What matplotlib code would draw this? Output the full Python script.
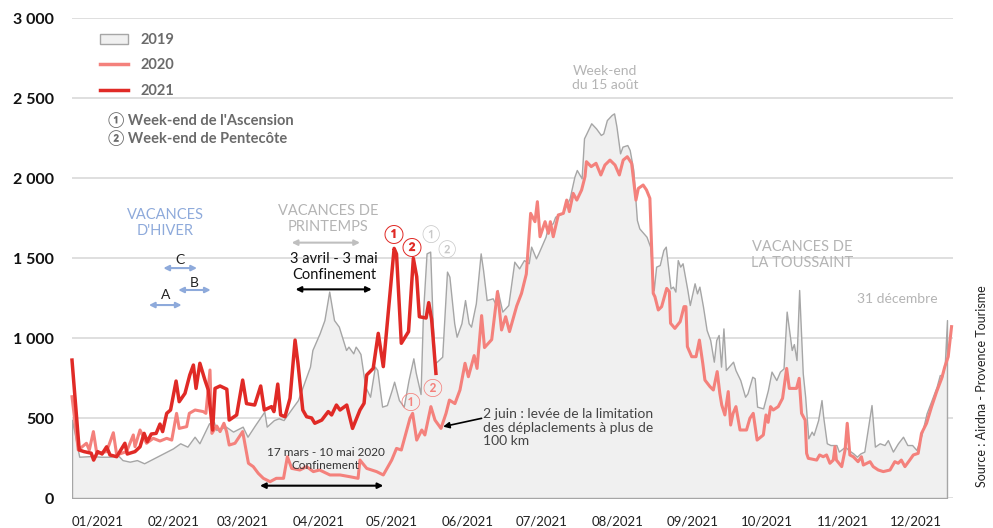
import matplotlib
matplotlib.use('Agg')
import matplotlib.pyplot as plt
import numpy as np

plt.rcParams['font.family'] = ['Lato', 'Noto Sans CJK JP', 'DejaVu Sans']

# day index in the year (0 = 1 January) and values
days_2019 = [0, 3, 8, 12, 16, 19, 21, 24, 27, 30, 34, 38, 42, 45, 48, 51, 53, 57, 59, 60,
             64, 67, 71, 73, 76, 80, 81, 84, 86, 88, 92, 94, 96, 99, 100, 103, 105, 107, 109, 111,
             114, 115, 117, 118, 119, 120, 122, 124, 126, 127, 129, 131, 133, 134, 136, 138, 140, 142, 143, 145,
             146, 147.5, 149, 150, 151, 152.5, 154, 156, 157, 159, 160, 162, 163.5, 165, 166, 168, 170, 171, 172.5, 175,
             176, 177, 179, 181.5, 184, 186, 188, 190, 191, 193, 194, 195.5, 197, 198, 200, 201, 204, 206, 207, 209,
             210, 212, 213, 214, 216, 218, 220, 221, 222.5, 224.5, 225.5, 226.5, 228, 229, 231, 232, 233.5, 235, 236, 239,
             240.5, 242, 243, 244.5, 246, 247, 249, 250, 251, 252, 253, 254, 256, 257, 259, 260, 261, 262.5, 264, 265.5,
             267, 268, 269, 270, 271, 272, 275, 276, 278, 280, 281, 283, 284, 285, 287.5, 289.5, 291, 293, 294.5, 296,
             297.3, 299.4, 300.3, 301.4, 302.5, 304, 305, 306.3, 307.7, 308.5, 310.4, 311.8, 312.5, 314, 315.5, 318, 319, 321.6, 323, 325,
             326.5, 328, 329.6, 332.6, 334, 336, 338, 339.4, 341.5, 343.6, 345.7, 347.5, 349.5, 351.3, 353.4, 355.5, 357.6, 359.7, 361, 362,
             363.1, 364]
vals_2019 = [490, 258, 262, 258, 258, 269, 237, 227, 237, 217, 248, 279, 310, 342, 321, 383, 342, 467, 477, 425,
             446, 415, 446, 383, 452, 540, 446, 487, 498, 487, 571, 612, 696, 821, 925, 1029, 1112, 1290, 1112, 1071,
             925, 946, 904, 946, 925, 900, 696, 633, 821, 800, 571, 581, 675, 727, 612, 571, 737, 873, 783, 650,
             1154, 1529, 1540, 1112, 842, 862, 883, 1415, 1383, 1092, 1008, 1092, 1237, 1092, 1071, 1217, 1529, 1425, 1237, 1248,
             1217, 1300, 1165, 1206, 1477, 1435, 1487, 1467, 1571, 1498, 1529, 1581, 1633, 1696, 1717, 1758, 1779, 1842, 1873, 2008,
             2050, 1998, 2248, 2279, 2342, 2310, 2269, 2279, 2362, 2394, 2404, 2321, 2154, 2196, 2206, 2175, 2050, 1737, 1685, 1633,
             1571, 1300, 1446, 1456, 1550, 1571, 1310, 1321, 1290, 1487, 1446, 1467, 1300, 1206, 1342, 1279, 1321, 1196, 1050, 987,
             852, 987, 1019, 821, 1060, 800, 852, 800, 737, 633, 654, 758, 748, 571, 560, 675, 790, 737, 790, 810,
             1165, 925, 962, 862, 1300, 779, 633, 373, 415, 394, 487, 612, 508, 342, 331, 331, 290, 321, 300, 279,
             258, 279, 290, 581, 321, 342, 331, 362, 290, 342, 383, 331, 331, 300, 394, 529, 612, 696, 769, 758,
             842, 1112]

days_2020 = [0, 2.6, 6, 7.2, 8.9, 10.3, 14.4, 17.2, 18.6, 22.7, 25.5, 26.2, 28.3, 31, 33.8, 36.6, 39.4, 41.5, 43.5, 44.6,
             47.7, 48.8, 51.2, 54.6, 55.7, 57.4, 58.2, 60.2, 61.6, 63.2, 64.3, 65.4, 67.8, 69.6, 71, 73.4, 75.4, 77.5, 79.6, 82.4,
             85, 88, 89.6, 91.4, 94.8, 97.6, 100.4, 103, 107.3, 111.5, 115.6, 119, 119.8, 122.6, 126.7, 129.5, 133, 135, 137, 140.6,
             141.7, 143.4, 145.5, 146.8, 149.3, 151, 153.5, 155.6, 157, 159.3, 161.4, 163.5, 164.9, 167.3, 168.5, 170.4, 171.6, 174.6, 177, 178.7,
             180.4, 182, 185, 187, 189, 190.8, 192.6, 193.6, 194.7, 196.8, 198.2, 199, 200.2, 202.3, 204.4, 205.8, 206.9, 208.5, 210, 212,
             213.4, 214, 216, 218, 220, 221.7, 223.8, 225.9, 227.7, 229.3, 231, 232.8, 234.6, 235.6, 237.6, 239, 240.4, 241.8, 242.5, 243.9,
             245.3, 247.4, 248.5, 249, 250.8, 253, 254.6, 255.4, 256, 257.8, 259.6, 261, 262.4, 263.3, 265.4, 266.8, 268.4, 269.5, 270.3, 271.6,
             273, 274, 275, 276.2, 277.9, 280.6, 282, 283.4, 285, 287.6, 288.7, 289.6, 290.6, 291.7, 293.8, 295.6, 297.3, 298.4, 301.4, 302.5,
             303.5, 305, 305.6, 306.3, 309.8, 311, 312.5, 313.9, 315.3, 316.7, 317.4, 318, 320.2, 321.6, 322.5, 323.6, 325, 327, 328.4, 329.2,
             332, 333.3, 335.4, 337.5, 340.3, 342.3, 343.7, 345, 346.5, 348.5, 350, 352, 353.4, 355.5, 357.6, 359.7, 361.8, 363.1, 364.5, 365.9]
vals_2020 = [633, 300, 342, 300, 415, 279, 290, 408, 269, 290, 394, 321, 425, 342, 373, 356, 373, 362, 529, 435,
             446, 529, 550, 540, 529, 800, 404, 450, 415, 467, 415, 331, 342, 383, 415, 217, 196, 154, 123, 102,
             123, 123, 258, 185, 175, 196, 165, 175, 144, 144, 133, 123, 237, 185, 165, 144, 237, 310, 300, 498,
             529, 362, 425, 394, 571, 487, 435, 529, 612, 590, 675, 842, 758, 890, 810, 1140, 940, 990, 1290, 1050,
             1133, 1040, 1200, 1279, 1400, 1779, 1727, 1852, 1633, 1727, 1654, 1727, 1633, 1769, 1779, 1862, 1790, 1904, 1862, 1925,
             2008, 2102, 2071, 2092, 2019, 2081, 2112, 2081, 2019, 2112, 2133, 2092, 1862, 1935, 1956, 1925, 1873, 1279, 1258, 1175,
             1196, 1310, 1290, 1092, 1060, 1102, 1196, 1196, 946, 883, 883, 987, 842, 737, 696, 675, 790, 654, 581, 519,
             665, 456, 529, 571, 425, 425, 498, 529, 362, 394, 519, 473, 571, 550, 571, 623, 810, 685, 685, 748,
             529, 487, 279, 248, 237, 269, 258, 269, 217, 237, 321, 237, 196, 300, 467, 269, 258, 227, 258, 206,
             227, 196, 175, 165, 175, 227, 217, 237, 196, 237, 269, 279, 404, 467, 571, 665, 748, 821, 883, 1071]

days_2021 = [0, 3, 5, 8, 9, 10.7, 12.5, 14.4, 15.8, 18.6, 22, 23, 26.2, 28.3, 30, 31.3, 33, 35, 36.6, 37.7,
             39.4, 41, 43.3, 44.6, 47, 49, 50.5, 51.6, 53.2, 55.3, 56.7, 58.5, 59.5, 61.6, 64.4, 65.4, 68.5, 71, 72.6, 76,
             78.5, 80, 83, 84, 85.6, 86.8, 88.6, 90.7, 92.8, 94, 96, 97.6, 99.7, 101, 103.9, 106.6, 108, 110, 111.5, 114.3,
             116.7, 119.8, 121.5, 122.6, 125.3, 127.4, 129.5, 130.9, 134, 135, 137, 140, 142, 143.4, 144.5, 147.3, 148.4, 149.6, 151.4]
vals_2021 = [862, 300, 290, 280, 237, 290, 275, 320, 269, 258, 342, 275, 290, 320, 404, 352, 400, 404, 462, 415,
             529, 550, 731, 602, 654, 769, 831, 685, 842, 737, 675, 425, 685, 700, 680, 487, 519, 737, 590, 581,
             700, 550, 571, 540, 712, 519, 508, 623, 987, 842, 550, 508, 500, 467, 487, 540, 519, 581, 550, 581,
             435, 550, 592, 769, 810, 1029, 821, 1050, 1560, 1525, 967, 1040, 1498, 1383, 1133, 1125, 1221, 1117, 779]

month_labels = ['01/2021', '02/2021', '03/2021', '04/2021', '05/2021', '06/2021',
                '07/2021', '08/2021', '09/2021', '10/2021', '11/2021', '12/2021']
month_starts = [0, 31, 59, 90, 120, 151, 181, 212, 243, 273, 304, 334]
y_ticks = [0, 500, 1000, 1500, 2000, 2500, 3000]

fig = plt.figure(figsize=(9.93, 5.28), dpi=100)
ax = fig.add_axes([72 / 993, 30 / 528, 881 / 993, 480 / 528])
ax.set_xlim(0, 366.5)
ax.set_ylim(0, 3000)

for s in ax.spines.values():
    s.set_visible(False)
ax.set_yticks(y_ticks)
ax.set_yticklabels([f'{v:,}'.replace(',', ' ') for v in y_ticks],
                   fontsize=11.5, fontweight='bold', color='#111111')
ax.tick_params(axis='y', length=0, pad=13)
ax.yaxis.grid(True, color='#d9d9d9', lw=1.2)
ax.set_axisbelow(True)
ax.set_xticks([])
for lab, d in zip(month_labels, month_starts):
    ax.text(d * 1.0187, -0.048, lab, transform=ax.get_xaxis_transform(),
            ha='left', va='center', fontsize=9.5, color='#222222')

# series
ax.fill_between(days_2019, vals_2019, 0, facecolor='#f0f0f0', edgecolor='#a6a6a6', lw=1, zorder=2)
ax.plot(days_2020, vals_2020, color='#f4817c', lw=2.2, zorder=3, clip_on=False)
ax.plot(days_2021, vals_2021, color='#e02a26', lw=2.5, zorder=4, clip_on=False)

# legend
import matplotlib.patches as mpatches
from matplotlib.lines import Line2D
handles = [mpatches.Patch(facecolor='#f0f0f0', edgecolor='#a6a6a6', lw=1),
           Line2D([], [], color='#f4817c', lw=2.5),
           Line2D([], [], color='#e02a26', lw=2.5)]
leg = fig.legend(handles, ['2019', '2020', '2021'], loc='upper left',
                 bbox_to_anchor=(100 / 993, 1 - 33 / 528), frameon=False,
                 handlelength=1.9, handleheight=0.7, handletextpad=0.9, labelspacing=0.78,
                 borderpad=0, borderaxespad=0, prop={'size': 10.5, 'weight': 'bold'})
for t in leg.get_texts():
    t.set_color('#6b6b6b')

fig.text(108 / 993, 1 - 120 / 528, "① Week-end de l'Ascension", fontsize=10.5,
         fontweight='bold', color='#6b6b6b', va='center')
fig.text(108 / 993, 1 - 138 / 528, "② Week-end de Pentecôte", fontsize=10.5,
         fontweight='bold', color='#6b6b6b', va='center')

# annotations
blue = '#8eaadb'
ax.text(38.7, 1719, "VACANCES\nD'HIVER", color=blue, fontsize=10.5, ha='center', va='center', linespacing=1.15)
for x0, x1, y, lab, ly in [(38, 52, 1437, 'C', 1485), (44.2, 57.7, 1300, 'B', 1345), (32, 45.6, 1206, 'A', 1270)]:
    ax.annotate('', xy=(x0, y), xytext=(x1, y),
                arrowprops=dict(arrowstyle='<|-|>', color=blue, lw=1.5, mutation_scale=8, shrinkA=0, shrinkB=0))
    ax.text((x0 + x1) / 2, ly, lab, ha='center', va='center', fontsize=10, color='#222222')

ax.text(106.5, 1744, "VACANCES DE\nPRINTEMPS", color='#b4b4b4', fontsize=10.5, ha='center', va='center', linespacing=1.15)
ax.annotate('', xy=(91.4, 1596), xytext=(119.8, 1596),
            arrowprops=dict(arrowstyle='<|-|>', color='#bfbfbf', lw=1.5, mutation_scale=8, shrinkA=0, shrinkB=0))
ax.text(109, 1444, "3 avril - 3 mai\nConfinement", color='#111111', fontsize=10.5, ha='center', va='center', linespacing=1.2)
ax.annotate('', xy=(93, 1304), xytext=(124.7, 1304),
            arrowprops=dict(arrowstyle='<|-|>', color='black', lw=1.5, mutation_scale=8, shrinkA=0, shrinkB=0))

ax.text(105.6, 246, "17 mars - 10 mai 2020\nConfinement", color='#333333', fontsize=8.5, ha='center', va='center', linespacing=1.2)
ax.annotate('', xy=(78.2, 77), xytext=(129.5, 77),
            arrowprops=dict(arrowstyle='<|-|>', color='black', lw=1.5, mutation_scale=8, shrinkA=0, shrinkB=0))

ax.text(133.6, 1654, '①', color='#e02a26', fontsize=13, fontweight='bold', ha='center', va='center', zorder=6)
ax.text(141.3, 1571, '②', color='#e02a26', fontsize=13, fontweight='bold', ha='center', va='center', zorder=6)
ax.text(140.6, 600, '①', color='#f4817c', fontsize=13, ha='center', va='center', zorder=6)
ax.text(149.7, 687, '②', color='#f4817c', fontsize=13, ha='center', va='center', zorder=6)
ax.text(149, 1650, '①', color='#c8c8c8', fontsize=12, ha='center', va='center', zorder=6)
ax.text(156, 1556, '②', color='#c8c8c8', fontsize=12, ha='center', va='center', zorder=6)

ax.text(221.7, 2625, "Week-end\ndu 15 août", color='#b4b4b4', fontsize=10, ha='center', va='center', linespacing=1.15)
ax.text(303.7, 1519, "VACANCES DE\nLA TOUSSAINT", color='#b4b4b4', fontsize=10.5, ha='center', va='center', linespacing=1.1)
ax.text(360, 1244, "31 décembre", color='#b4b4b4', fontsize=10, ha='right', va='center')

ax.text(171, 440, "2 juin : levée de la limitation\ndes déplaclements à plus de\n100 km",
        color='#444444', fontsize=10, ha='left', va='center', linespacing=1.15)
ax.annotate('', xy=(154.4, 446), xytext=(170.4, 498),
            arrowprops=dict(arrowstyle='-|>', color='black', lw=1.2, mutation_scale=9, shrinkA=0, shrinkB=0))

fig.text(982 / 993, 1 - 386 / 528, "Source : Airdna - Provence Tourisme", rotation=90,
         fontsize=9, color='#222222', ha='center', va='center')

fig.savefig('out.png', dpi=100)
